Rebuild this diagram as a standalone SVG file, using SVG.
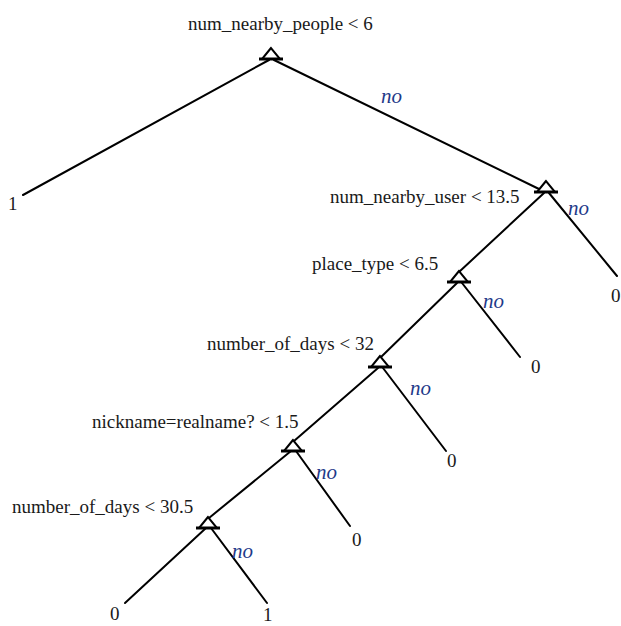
<svg xmlns="http://www.w3.org/2000/svg" width="621" height="626" viewBox="0 0 621 626">
<style>
.e{stroke:#000;stroke-width:2;fill:none;stroke-linecap:round}
.t{fill:#fff;stroke:#000;stroke-width:2}
.b{stroke:#000;stroke-width:3}
.l{font-family:"Liberation Serif","Times New Roman",serif;font-size:19px;fill:#1a1a1a}
.n{font-family:"Liberation Serif","Times New Roman",serif;font-size:21px;font-style:italic;fill:#1f3a8a}
</style>
<rect width="621" height="626" fill="#fff"/>
<g id="edges">
<line class="e" x1="269" y1="60" x2="23" y2="195"/>
<line class="e" x1="274" y1="60" x2="539" y2="189"/>
<line class="e" x1="544" y1="193" x2="459" y2="272"/>
<line class="e" x1="549" y1="193" x2="617" y2="276"/>
<line class="e" x1="457" y1="283" x2="380" y2="358"/>
<line class="e" x1="462" y1="283" x2="520" y2="357"/>
<line class="e" x1="378" y1="368" x2="294" y2="441"/>
<line class="e" x1="383" y1="368" x2="446" y2="451"/>
<line class="e" x1="291" y1="451" x2="209" y2="518"/>
<line class="e" x1="296" y1="451" x2="350" y2="526"/>
<line class="e" x1="206" y1="528" x2="125" y2="603"/>
<line class="e" x1="211" y1="528" x2="267" y2="603"/>
</g>
<g id="n1"><text class="l" x="188" y="30">num_nearby_people &lt; 6</text><polygon class="t" points="271,48 262,59 280,59"/><line class="b" x1="259" y1="59" x2="283" y2="59"/></g>
<g id="n2"><text class="l" x="330" y="203">num_nearby_user &lt; 13.5</text><polygon class="t" points="546,181 537,192 555,192"/><line class="b" x1="534" y1="192" x2="558" y2="192"/></g>
<g id="n3"><text class="l" x="312" y="270">place_type &lt; 6.5</text><polygon class="t" points="459,271 450,282 468,282"/><line class="b" x1="447" y1="282" x2="471" y2="282"/></g>
<g id="n4"><text class="l" x="207" y="350">number_of_days &lt; 32</text><polygon class="t" points="380,356 371,367 389,367"/><line class="b" x1="368" y1="367" x2="392" y2="367"/></g>
<g id="n5"><text class="l" x="92" y="428">nickname=realname? &lt; 1.5</text><polygon class="t" points="293,440 284,451 302,451"/><line class="b" x1="281" y1="451" x2="305" y2="451"/></g>
<g id="n6"><text class="l" x="12" y="513">number_of_days &lt; 30.5</text><polygon class="t" points="208,517 199,528 217,528"/><line class="b" x1="196" y1="528" x2="220" y2="528"/></g>
<g id="labels">
<text class="n" x="381" y="103">no</text>
<text class="n" x="568" y="215">no</text>
<text class="n" x="483" y="308">no</text>
<text class="n" x="410" y="395">no</text>
<text class="n" x="316" y="479">no</text>
<text class="n" x="232" y="558">no</text>
</g>
<g id="leaves">
<text class="l" x="8" y="210">1</text>
<text class="l" x="611" y="302">0</text>
<text class="l" x="531" y="373">0</text>
<text class="l" x="447" y="467">0</text>
<text class="l" x="352" y="546">0</text>
<text class="l" x="110" y="620">0</text>
<text class="l" x="263" y="621">1</text>
</g>
</svg>
